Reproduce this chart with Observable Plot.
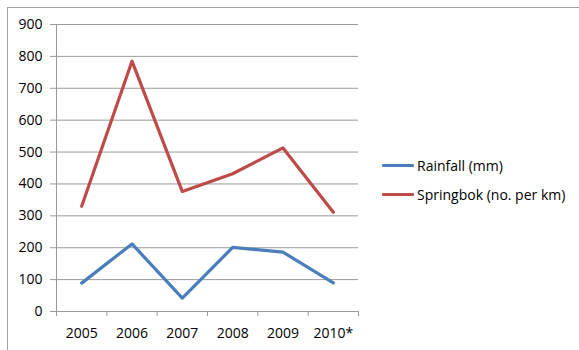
<!DOCTYPE html>
<html>
<head>
<meta charset="utf-8">
<script src="https://cdn.jsdelivr.net/npm/d3@7"></script>
<script src="https://cdn.jsdelivr.net/npm/@observablehq/plot@0.6"></script>
<style>
  html, body { margin: 0; padding: 0; background: #fff; overflow: hidden; }
  #wrap { position: relative; width: 579px; height: 350px; font-family: "Open Sans", Lato, sans-serif; }
  #frame { position: absolute; left: 7px; top: 7px; width: 700px; height: 500px;
           border-top: 1px solid #a0a0a0; border-left: 1px solid #a0a0a0; }
  #chart { position: absolute; left: 0; top: 0; }
  #legend { position: absolute; left: 382px; top: 155px; font-size: 14px; color: #000; }
  .row { display: flex; align-items: center; height: 21px; margin-bottom: 8px; white-space: nowrap; }
  .swatch { width: 32px; height: 3px; margin-right: 3px; border-radius: 1px; }
</style>
</head>
<body>
<div id="wrap">
  <div id="frame"></div>
  <div id="chart"></div>
  <div id="legend"></div>
</div>
<script>
// Years on the horizontal axis (2010 is provisional)
const years = ["2005", "2006", "2007", "2008", "2009", "2010*"];
// Annual rainfall, mm
const rainfall = [89, 212, 42, 201, 186, 90];
// Springbok density, animals per km
const springbok = [330, 785, 376, 432, 513, 311];
// Value axis ticks
const yTicks = [0, 100, 200, 300, 400, 500, 600, 700, 800, 900];

const series = [
  { name: "Rainfall (mm)", values: rainfall, color: "#4a7ebb" },
  { name: "Springbok (no. per km)", values: springbok, color: "#be4b48" }
];

// One row per year and series; categories sit in the middle of each slot
const rows = series.flatMap(s =>
  years.map((year, i) => ({ series: s.name, slot: i + 0.5, value: s.values[i] }))
);

const gridColor = "#9a9a9a";

const chart = Plot.plot({
  width: 579,
  height: 350,
  marginLeft: 56,
  marginRight: 221,
  marginTop: 24,
  marginBottom: 39,
  style: { fontFamily: "'Open Sans', Lato, sans-serif", fontSize: "14px", color: "#000", background: "transparent" },
  x: { type: "linear", domain: [0, years.length], label: null },
  y: { domain: [0, 900], label: null },
  marks: [
    Plot.gridY({ ticks: yTicks, stroke: gridColor, strokeOpacity: 1 }),
    Plot.axisY({ ticks: yTicks, tickSize: 6, tickPadding: 8, stroke: gridColor, fill: "#000", label: null }),
    Plot.ruleX([0], { y1: 0, y2: 900, stroke: gridColor }),
    Plot.ruleY([0], { stroke: gridColor }),
    // slot boundaries as tick marks below the axis
    Plot.axisX({ ticks: d3.range(years.length + 1), tickSize: 5, tickFormat: () => "", stroke: gridColor, label: null }),
    // year labels centred in each slot
    Plot.axisX({ ticks: years.map((_, i) => i + 0.5), tickSize: 0, tickPadding: 17,
                 tickFormat: v => years[Math.round(v - 0.5)], fill: "#000", label: null }),
    ...series.map(s => Plot.line(rows.filter(r => r.series === s.name), {
      x: "slot", y: "value", stroke: s.color, strokeWidth: 3.2,
      strokeLinejoin: "round", strokeLinecap: "round"
    }))
  ]
});
document.getElementById("chart").appendChild(chart);

// Legend to the right of the plot area
const legend = d3.select("#legend");
for (const s of series) {
  const row = legend.append("div").attr("class", "row");
  row.append("div").attr("class", "swatch").style("background", s.color);
  row.append("span").text(s.name);
}
</script>
</body>
</html>
